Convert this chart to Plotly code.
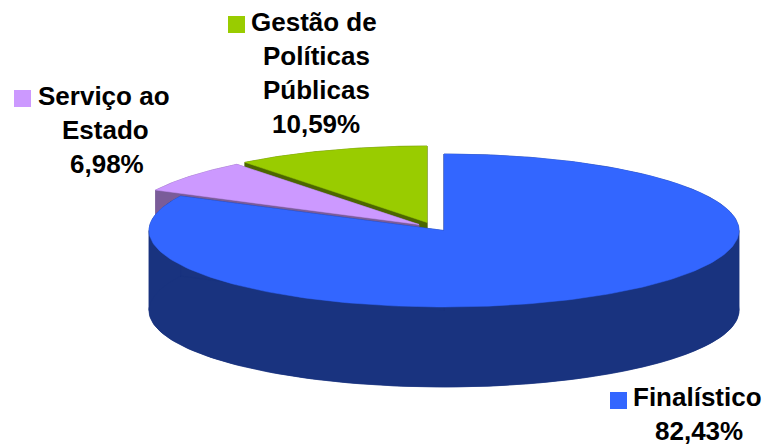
import numpy as np
import plotly.graph_objects as go

# Data
categories = ["Finalístico", "Serviço ao Estado", "Gestão de Políticas Públicas"]
values = [82.43, 6.98, 10.59]
label_lines = [["Finalístico", "82,43%"],
               ["Serviço ao", "Estado", "6,98%"],
               ["Gestão de", "Políticas", "Públicas", "10,59%"]]

# Style / layout of the drawing
top_colors = ["#3366FF", "#CC99FF", "#99CC00"]
side_colors = ["#19337F", "#7A5C99", "#4C6600"]
centers = [(444, 230.5), (419, 224.5), (427, 222.5)]
RX, RY, DEPTH = 295, 76.5, 80
key_pos = [(618.5, 400.5), (22.5, 98.5), (236.5, 24.5)]
text_pos = [[(697, 397), (699, 431)],
            [(104, 96), (105, 130), (107, 164)],
            [(314, 22), (316, 56), (316, 90), (316, 124)]]

fig = go.Figure()


def poly(xs, ys, color):
    fig.add_trace(go.Scatter(x=list(xs), y=list(ys), mode="lines", fill="toself",
                             fillcolor=color, line=dict(color=color, width=0.5),
                             hoverinfo="skip", showlegend=False))


# slice angles: clockwise from 12 o'clock
ends = np.cumsum(values) / np.sum(values) * 2 * np.pi
starts = np.concatenate([[0], ends[:-1]])

# back-to-front painting order: Gestão, Serviço, Finalístico
for i in [2, 1, 0]:
    cx, cy = centers[i]
    a = np.linspace(starts[i], ends[i], 240)
    ax = cx + RX * np.sin(a)
    ay = cy - RY * np.cos(a)
    # bottom sector
    poly(np.r_[cx, ax, cx], np.r_[cy + DEPTH, ay + DEPTH, cy + DEPTH], side_colors[i])
    # rim, split where the outline turns back so the ribbon does not fold over itself
    cuts = [starts[i]] + [t for t in (np.pi / 2, 3 * np.pi / 2) if starts[i] < t < ends[i]] + [ends[i]]
    for lo, hi in zip(cuts[:-1], cuts[1:]):
        b = np.linspace(lo, hi, 120)
        bx = cx + RX * np.sin(b)
        by = cy - RY * np.cos(b)
        poly(np.r_[bx, bx[::-1], bx[0]], np.r_[by, by[::-1] + DEPTH, by[0]], side_colors[i])
    # cut faces
    for k in (0, -1):
        poly([cx, ax[k], ax[k], cx, cx],
             [cy, ay[k], ay[k] + DEPTH, cy + DEPTH, cy], side_colors[i])
    # top face
    poly(np.r_[cx, ax, cx], np.r_[cy, ay, cy], top_colors[i])

# legend keys inline with labels
for i, name in enumerate(categories):
    fig.add_trace(go.Scatter(x=[key_pos[i][0]], y=[key_pos[i][1]], mode="markers",
                             marker=dict(symbol="square", size=17, color=top_colors[i],
                                         line=dict(width=0)),
                             name=name, showlegend=False, hoverinfo="skip"))

annotations = []
for lines, positions in zip(label_lines, text_pos):
    for line, (x, y) in zip(lines, positions):
        annotations.append(dict(x=x, y=y, text=line, showarrow=False,
                                xanchor="center", yanchor="middle",
                                font=dict(family="Liberation Sans", size=26, color="black",
                                          weight="bold")))

fig.update_layout(
    width=765, height=446, margin=dict(l=0, r=0, t=0, b=0),
    paper_bgcolor="white", plot_bgcolor="white", showlegend=False,
    xaxis=dict(range=[0, 765], visible=False, fixedrange=True),
    yaxis=dict(range=[446, 0], visible=False, fixedrange=True),
    annotations=annotations,
)
fig.write_html("out.html", config=dict(displayModeBar=False),
               post_script="document.body.style.margin='0';document.documentElement.style.overflow='hidden';")
